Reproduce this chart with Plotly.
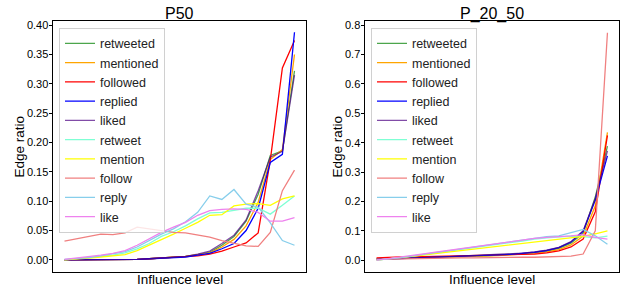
import plotly.graph_objects as go

levels = list(range(1, 21))
series_names = ["retweeted", "mentioned", "followed", "replied", "liked",
                "retweet", "mention", "follow", "reply", "like"]
series_colors = ["rgba(0,128,0,0.7)", "#FFA500", "#FF0000", "#0000FF", "rgba(75,0,130,0.7)",
                 "#7FFFD4", "#FFFF00", "#F08080", "#87CEEB", "#EE82EE"]

# ---- P50 ----
p50_retweeted = [0.000, 0.000, 0.000, 0.000, 0.000, 0.001, 0.001, 0.002, 0.003, 0.004,
                 0.006, 0.009, 0.013, 0.025, 0.040, 0.066, 0.112, 0.178, 0.186, 0.322]
p50_mentioned = [0.000, 0.000, 0.000, 0.000, 0.000, 0.001, 0.001, 0.002, 0.003, 0.004,
                 0.006, 0.009, 0.012, 0.022, 0.035, 0.058, 0.098, 0.171, 0.188, 0.350]
p50_followed = [0.000, 0.000, 0.000, 0.000, 0.000, 0.000, 0.001, 0.002, 0.003, 0.004,
                0.005, 0.007, 0.010, 0.015, 0.022, 0.029, 0.046, 0.170, 0.327, 0.374]
p50_replied = [0.000, 0.000, 0.000, 0.000, 0.000, 0.001, 0.001, 0.002, 0.003, 0.004,
               0.005, 0.008, 0.011, 0.019, 0.028, 0.050, 0.088, 0.166, 0.180, 0.388]
p50_liked = [0.000, 0.000, 0.000, 0.000, 0.000, 0.001, 0.001, 0.002, 0.003, 0.004,
             0.006, 0.010, 0.015, 0.028, 0.042, 0.068, 0.118, 0.175, 0.185, 0.315]
p50_retweet = [0.000, 0.002, 0.004, 0.006, 0.008, 0.012, 0.019, 0.028, 0.040, 0.048,
               0.058, 0.070, 0.080, 0.081, 0.085, 0.088, 0.088, 0.078, 0.093, 0.109]
p50_mention = [0.000, 0.001, 0.003, 0.005, 0.007, 0.009, 0.016, 0.025, 0.035, 0.044,
               0.054, 0.064, 0.076, 0.077, 0.092, 0.095, 0.096, 0.093, 0.104, 0.109]
p50_follow = [0.032, 0.036, 0.041, 0.044, 0.043, 0.046, 0.056, 0.053, 0.049, 0.047,
              0.046, 0.043, 0.039, 0.033, 0.028, 0.024, 0.023, 0.047, 0.118, 0.153]
p50_reply = [0.001, 0.002, 0.004, 0.007, 0.010, 0.014, 0.022, 0.033, 0.044, 0.053,
             0.065, 0.081, 0.109, 0.103, 0.120, 0.095, 0.090, 0.063, 0.033, 0.025]
p50_like = [0.001, 0.003, 0.005, 0.008, 0.011, 0.016, 0.025, 0.036, 0.047, 0.056,
            0.064, 0.076, 0.084, 0.086, 0.087, 0.086, 0.081, 0.066, 0.066, 0.072]

# ---- P_20_50 ----
p2050_retweeted = [0.004, 0.005, 0.006, 0.007, 0.008, 0.009, 0.011, 0.012, 0.013, 0.015,
                   0.017, 0.019, 0.021, 0.025, 0.030, 0.040, 0.058, 0.092, 0.215, 0.388]
p2050_mentioned = [0.004, 0.005, 0.006, 0.007, 0.008, 0.009, 0.010, 0.011, 0.013, 0.014,
                   0.016, 0.018, 0.020, 0.024, 0.028, 0.036, 0.052, 0.082, 0.185, 0.435]
p2050_followed = [0.008, 0.010, 0.011, 0.011, 0.012, 0.012, 0.013, 0.013, 0.014, 0.015,
                  0.016, 0.017, 0.019, 0.021, 0.025, 0.032, 0.045, 0.072, 0.165, 0.425]
p2050_replied = [0.003, 0.004, 0.006, 0.007, 0.009, 0.010, 0.012, 0.013, 0.015, 0.016,
                 0.018, 0.020, 0.023, 0.027, 0.033, 0.043, 0.062, 0.098, 0.205, 0.355]
p2050_liked = [0.003, 0.004, 0.006, 0.007, 0.009, 0.010, 0.012, 0.014, 0.015, 0.017,
               0.019, 0.021, 0.024, 0.028, 0.034, 0.044, 0.063, 0.100, 0.210, 0.372]
p2050_retweet = [0.000, 0.004, 0.009, 0.014, 0.020, 0.026, 0.032, 0.038, 0.044, 0.050,
                 0.055, 0.060, 0.065, 0.072, 0.076, 0.080, 0.082, 0.080, 0.076, 0.082]
p2050_mention = [0.000, 0.004, 0.009, 0.013, 0.018, 0.023, 0.028, 0.033, 0.038, 0.043,
                 0.048, 0.053, 0.058, 0.063, 0.068, 0.072, 0.076, 0.081, 0.090, 0.100]
p2050_follow = [0.003, 0.004, 0.005, 0.006, 0.006, 0.007, 0.007, 0.008, 0.008, 0.009,
                0.009, 0.009, 0.010, 0.010, 0.011, 0.012, 0.014, 0.021, 0.100, 0.774]
p2050_reply = [0.000, 0.004, 0.009, 0.015, 0.021, 0.027, 0.033, 0.039, 0.045, 0.051,
               0.057, 0.063, 0.068, 0.075, 0.080, 0.083, 0.095, 0.105, 0.083, 0.054]
p2050_like = [0.000, 0.005, 0.010, 0.016, 0.022, 0.028, 0.034, 0.040, 0.046, 0.052,
              0.058, 0.064, 0.068, 0.074, 0.078, 0.080, 0.083, 0.087, 0.078, 0.072]

p50_series = [p50_retweeted, p50_mentioned, p50_followed, p50_replied, p50_liked,
              p50_retweet, p50_mention, p50_follow, p50_reply, p50_like]
p2050_series = [p2050_retweeted, p2050_mentioned, p2050_followed, p2050_replied, p2050_liked,
                p2050_retweet, p2050_mention, p2050_follow, p2050_reply, p2050_like]

W, H = 626, 290
FONT = "Liberation Sans, Arial, Helvetica, sans-serif"

fig = go.Figure()
for name, color, ys in zip(series_names, series_colors, p50_series):
    fig.add_trace(go.Scatter(x=levels, y=ys, mode="lines", name=name,
                             line=dict(color=color, width=1.3),
                             xaxis="x", yaxis="y", legend="legend"))
for name, color, ys in zip(series_names, series_colors, p2050_series):
    fig.add_trace(go.Scatter(x=levels, y=ys, mode="lines", name=name,
                             line=dict(color=color, width=1.3),
                             xaxis="x2", yaxis="y2", legend="legend2"))

ydom = [1 - 272 / H, 1 - 19 / H]
axis_common = dict(showline=True, linecolor="black", linewidth=1, mirror=True,
                   showgrid=False, zeroline=False)
xr = [levels[0] - 0.95, levels[-1] + 0.95]

legend_common = dict(font=dict(family=FONT, size=12.5, color="#222"),
                     bgcolor="rgba(255,255,255,0.8)", bordercolor="#d0d0d0", borderwidth=1,
                     xanchor="left", yanchor="top", itemwidth=30, tracegroupgap=0)

title_font = dict(family=FONT, size=13.5, color="black")
ymid = 1 - (19 + 272) / 2 / H
ytick_common = dict(ticks="outside", ticklen=3.5, tickwidth=1, tickcolor="black",
                    tickfont=dict(size=11), ticklabelstandoff=-2)

fig.update_layout(
    width=W, height=H,
    margin=dict(l=0, r=0, t=0, b=0),
    paper_bgcolor="white", plot_bgcolor="white",
    font=dict(family=FONT, size=11, color="black"),
    showlegend=True,
    xaxis=dict(domain=[53 / W, 306 / W], range=xr, showticklabels=False, ticks="",
               anchor="y", **axis_common),
    yaxis=dict(domain=ydom, range=[-0.0208, 0.4073], tick0=0, dtick=0.05, tickformat=".2f",
               anchor="x", **ytick_common, **axis_common),
    xaxis2=dict(domain=[365 / W, 619 / W], range=xr, showticklabels=False, ticks="",
                anchor="y2", **axis_common),
    yaxis2=dict(domain=ydom, range=[-0.0406, 0.8146], tick0=0, dtick=0.1, tickformat=".1f",
                anchor="x2", **ytick_common, **axis_common),
    legend=dict(x=59 / W, y=1 - 26 / H, **legend_common),
    legend2=dict(x=371 / W, y=1 - 26 / H, **legend_common),
    annotations=[
        dict(text="P50", xref="paper", yref="paper", x=(53 + 306) / 2 / W, y=1 - 12 / H,
             xanchor="center", yanchor="middle", showarrow=False,
             font=dict(family=FONT, size=16, color="black")),
        dict(text="P_20_50", xref="paper", yref="paper", x=(365 + 619) / 2 / W, y=1 - 12 / H,
             xanchor="center", yanchor="middle", showarrow=False,
             font=dict(family=FONT, size=16, color="black")),
        dict(text="Influence level", xref="paper", yref="paper", x=(53 + 306) / 2 / W,
             y=1 - 279 / H, xanchor="center", yanchor="middle", showarrow=False,
             font=title_font),
        dict(text="Influence level", xref="paper", yref="paper", x=(365 + 619) / 2 / W,
             y=1 - 279 / H, xanchor="center", yanchor="middle", showarrow=False,
             font=title_font),
        dict(text="Edge ratio", xref="paper", yref="paper", x=19 / W, y=ymid,
             xanchor="center", yanchor="middle", textangle=-90, showarrow=False,
             font=title_font),
        dict(text="Edge ratio", xref="paper", yref="paper", x=337 / W, y=ymid,
             xanchor="center", yanchor="middle", textangle=-90, showarrow=False,
             font=title_font),
    ],
)

fig.write_html("out.html", config={"displayModeBar": False},
               post_script="document.body.style.margin='0px';document.body.style.padding='0px';")
